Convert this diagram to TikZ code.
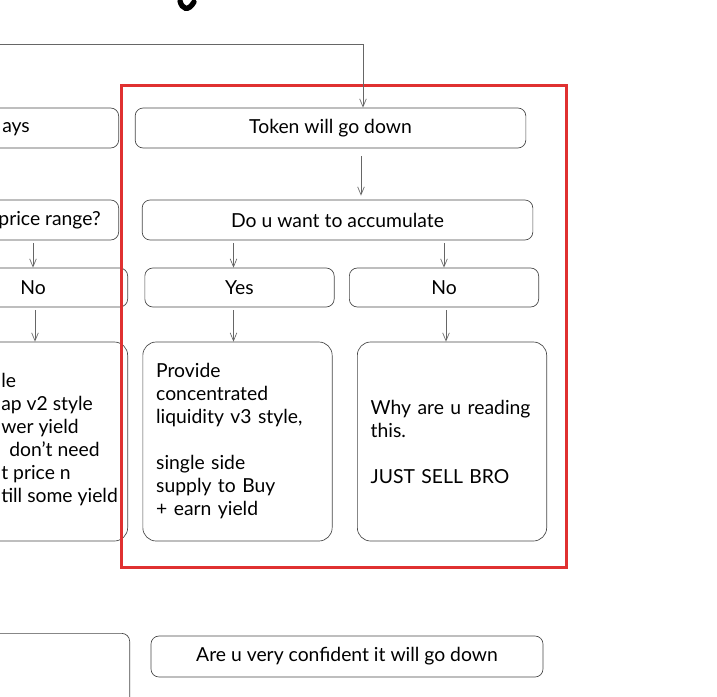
\documentclass[tikz,border=0pt]{standalone}
\usepackage{fontspec}
\setmainfont{Lato}
\usepackage{tikz}
\usetikzlibrary{arrows.meta, positioning, calc}
\definecolor{framered}{RGB}{224,49,49}
\definecolor{inkgray}{RGB}{70,70,70}

\begin{document}
\begin{tikzpicture}[
    x=0.75pt, y=-0.75pt,
    box/.style={
        rectangle,
        rounded corners=6pt,
        draw=inkgray,
        line width=0.5pt,
        minimum width=293pt,
        minimum height=30pt,
        align=center,
        font=\fontsize{14.5}{17.25}\selectfont
    },
    smallbox/.style={
        box,
        minimum width=142pt,
        minimum height=29.25pt
    },
    tallbox/.style={
        box,
        rounded corners=10pt,
        minimum width=142pt,
        minimum height=149.25pt,
        text width=122pt,
        inner xsep=10pt,
        align=left
    },
    txt/.style={
        inner sep=0pt,
        align=left,
        font=\fontsize{14.5}{17.25}\selectfont
    },
    arrow/.style={-{Straight Barb[length=6pt,width=5pt]}, black!60, line width=0.5pt, shorten <=2pt},
    frame/.style={draw=framered, line width=2.25pt}
]
\useasboundingbox (0,0) rectangle (717,696);
\clip (0,0) rectangle (717,696);

% right column
\node[box] (tok) at (330.5,128) {Token will go down};
\node[box] (acc) at (337.5,220) {Do u want to accumulate};
\node[smallbox] (yes) at (239.5,287.5) {Yes};
\node[smallbox] (no) at (444,287.5) {No};
\node[tallbox] (prov) at (237.5,441.5) {Provide\\concentrated\\liquidity v3 style,\\[17.25pt]single side\\supply to Buy\\+ earn yield};
\node[tallbox] (why) at (452,441.5) {Why are u reading\\this.\\[17.25pt]JUST SELL BRO};
\node[box, minimum width=294pt, minimum height=30.75pt] (conf) at (347,656.5) {Are u very confident it will go down};

% left column, cut off by the page edge
\node[box, anchor=east] (lside) at (119,128) {};
\node[txt, anchor=west] (lsidetxt) at (2,129) {ays};
\node[box, anchor=east] (lrange) at (119,220) {};
\node[txt, anchor=east] (lrangetxt) at (101,220) {price range?};
\node[smallbox] (lno) at (33,287.5) {No};
\node[tallbox] (lbig) at (33,441.5) {};
\node[txt, anchor=west] (lbigtxt) at (1,440) {le\\ap v2 style\\wer yield\\\hspace{6pt}don't need\\t price n\\till some yield};
\node[box, anchor=north east, minimum width=142pt, minimum height=110pt] (lbot) at (130,633) {};

% title stroke at the top edge
\draw[line width=4pt, line cap=round] (180,1) .. controls (182,9) and (188,12) .. (194,2);

% red frame
\draw[frame] (121,85) rectangle (566,567);

% connectors
\coordinate (topin) at (-5,44);
\draw[arrow, shorten <=0pt] (topin) -| ($(tok.north)+(32.5,0)$);
\draw[arrow, shorten <=6pt, shorten >=3pt] ($(tok.south)+(30.5,0)$) -- ($(acc.north)+(23.5,0)$);
\draw[arrow] ($(acc.south -| yes.north)+(-6,0)$) -- ($(yes.north)+(-6,0)$);
\draw[arrow] (acc.south -| no.north) -- (no.north);
\draw[arrow] ($(yes.south)+(-6,0)$) -- ($(prov.north)+(-4,0)$);
\draw[arrow] ($(no.south)+(2,0)$) -- ($(why.north)+(-6,0)$);
\draw[arrow] (lrange.south -| lno.north) -- (lno.north);
\draw[arrow] ($(lno.south)+(2,0)$) -- ($(lbig.north)+(2,0)$);

\end{tikzpicture}
\end{document}
